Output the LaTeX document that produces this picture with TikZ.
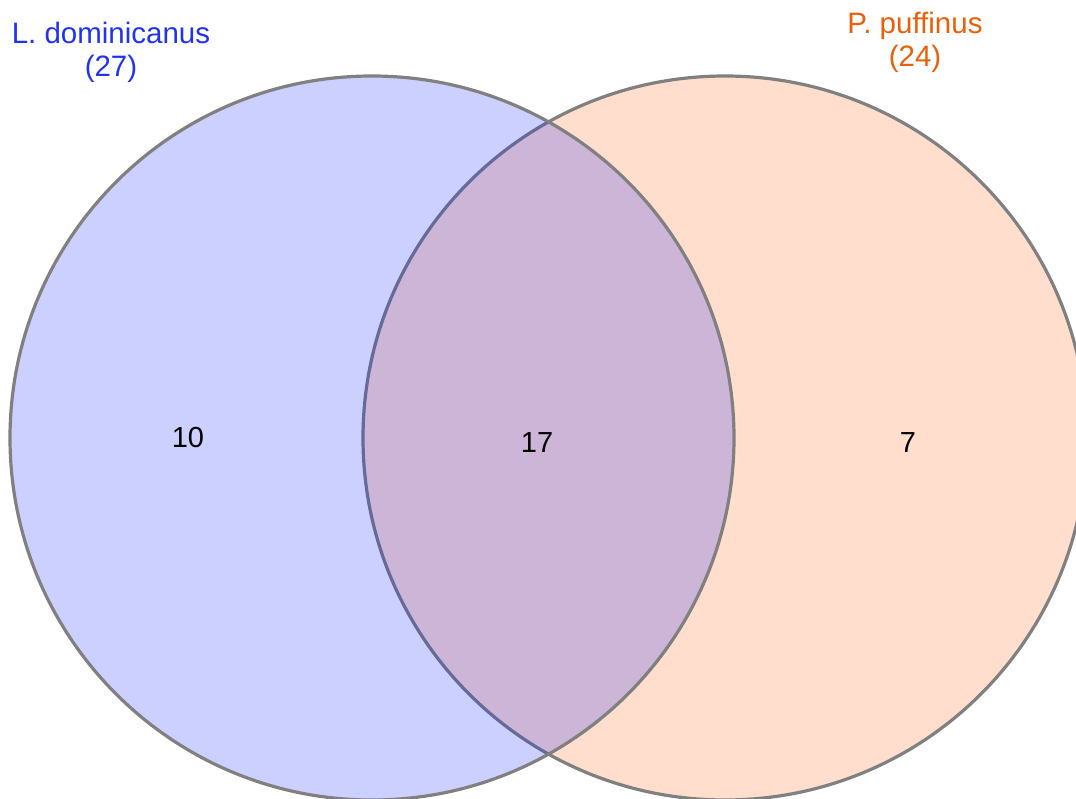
\documentclass[tikz,border=0pt]{standalone}
\usepackage{fontspec}
\setmainfont{Liberation Sans}
\definecolor{setblue}{RGB}{0,20,255}
\definecolor{setorange}{RGB}{255,90,10}
\definecolor{labblue}{RGB}{34,51,238}
\definecolor{laborange}{RGB}{232,96,10}
\definecolor{edgegray}{RGB}{128,128,128}
\begin{document}
\begin{tikzpicture}[x=1pt,y=-1pt,
  setcircle/.style={draw=edgegray,line width=3.2pt},
  countlabel/.style={font=\fontsize{29}{33}\selectfont,text=black},
  setlabel/.style={font=\fontsize{29.5}{33}\selectfont,align=center,inner sep=0pt}]
\useasboundingbox (0,0) rectangle (1076,798);
\clip (0,0) rectangle (1076,798);
\coordinate (cl) at (372,438);
\coordinate (cr) at (725,438);
\path[setcircle,fill=setorange,fill opacity=0.2] (cr) circle[radius=362];
\path[setcircle,fill=setblue,fill opacity=0.2] (cl) circle[radius=362];
\node[setlabel,text=labblue] (la) at (111,52) {L. dominicanus\\(27)};
\node[setlabel,text=laborange] (lb) at (915,42) {P. puffinus\\(24)};
\node[countlabel] (n1) at (188,438) {10};
\node[countlabel] (n2) at (537,443) {17};
\node[countlabel] (n3) at (908,443) {7};
\end{tikzpicture}
\end{document}
